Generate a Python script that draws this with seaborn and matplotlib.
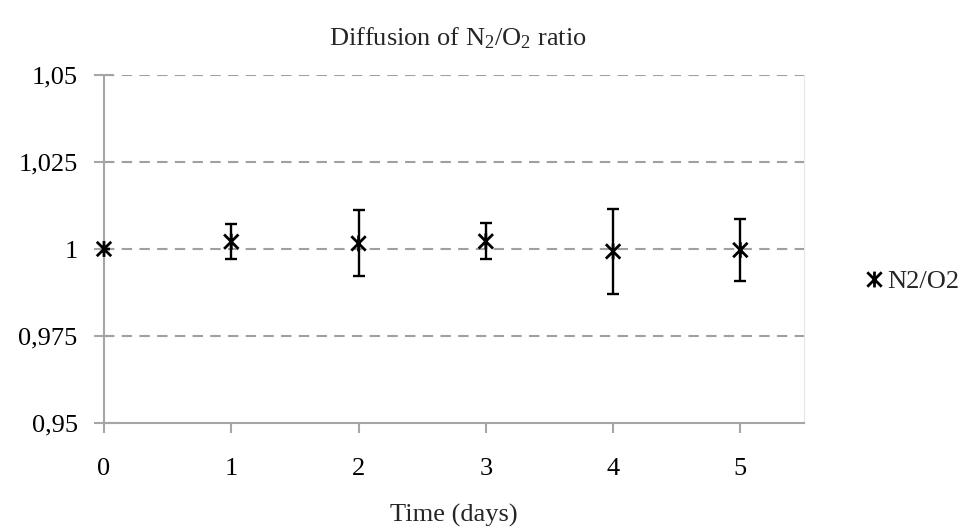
import matplotlib
matplotlib.use("Agg")
import matplotlib.pyplot as plt
from matplotlib.path import Path
import seaborn as sns
import pandas as pd
import numpy as np

# Data
days = [0, 1, 2, 3, 4, 5]
ratio = [1.0000, 1.0021, 1.0016, 1.0022, 0.9993, 0.9997]
err = [0.0, 0.0051, 0.0095, 0.0052, 0.0122, 0.0089]
series_name = "N2/O2"
yticks = [0.95, 0.975, 1.0, 1.025, 1.05]
ytick_labels = ["0,95", "0,975", "1", "1,025", "1,05"]
xticks = [0, 1, 2, 3, 4, 5]

df = pd.DataFrame({"day": days, "ratio": ratio, "err": err, "series": series_name})

sns.set_theme(style="white")
plt.rcParams["font.family"] = ["Liberation Serif", "DejaVu Serif"]
plt.rcParams["mathtext.fontset"] = "custom"
plt.rcParams["mathtext.rm"] = "Liberation Serif"
plt.rcParams["mathtext.it"] = "Liberation Serif:italic"

fig = plt.figure(figsize=(9.74, 5.31), dpi=100)
ax = fig.add_axes([104 / 974, 1 - 423 / 531, 700 / 974, 348 / 531])

star = Path([(-1, -1), (1, 1), (-1, 1), (1, -1), (0, -1.1), (0, 1.1)],
            [Path.MOVETO, Path.LINETO, Path.MOVETO, Path.LINETO, Path.MOVETO, Path.LINETO])

ax.errorbar(df["day"], df["ratio"], yerr=df["err"], fmt="none", ecolor="black",
            elinewidth=1.7, capsize=4.3, capthick=1.7, zorder=3)
sns.scatterplot(data=df, x="day", y="ratio", hue="series", palette=["black"],
                marker=star, s=130, linewidth=2.0, edgecolor="black",
                ax=ax, zorder=4, legend=True, clip_on=False)

ax.set_xlim(0, 5.5)
ax.set_ylim(0.95, 1.05)
ax.set_xticks(xticks)
ax.set_yticks(yticks)
ax.set_yticklabels(ytick_labels)
ax.tick_params(axis="both", labelsize=19, colors="#a6a6a6", labelcolor="black",
               width=1.5, left=True, bottom=True)
ax.tick_params(axis="y", direction="inout", length=14, pad=12)
ax.tick_params(axis="x", direction="out", length=7, pad=18)

for y in yticks[1:]:
    ax.axhline(y, color="#a0a0a0", lw=1.5, ls=(0, (5, 3.5)), zorder=1)

for s in ["left", "bottom"]:
    ax.spines[s].set_color("#a6a6a6")
    ax.spines[s].set_linewidth(1.5)
ax.spines["top"].set_visible(False)
ax.spines["right"].set_color("#e6e6e6")
ax.spines["right"].set_linewidth(0.8)

ax.set_xlabel("")
ax.set_ylabel("")
fig.text(454 / 974, 1 - 515 / 531, "Time (days)", ha="center", va="center", fontsize=19)
fig.text(458 / 974, 1 - 38 / 531, r"Diffusion of N$_2$/O$_2$ ratio", ha="center",
         va="center", fontsize=19)

leg = ax.legend(loc="center left", bbox_to_anchor=(848 / 974, 1 - 281 / 531),
                bbox_transform=fig.transFigure, frameon=False, fontsize=19,
                handletextpad=0.0, borderpad=0, handlelength=1.0)

fig.savefig("out.png", dpi=100)
